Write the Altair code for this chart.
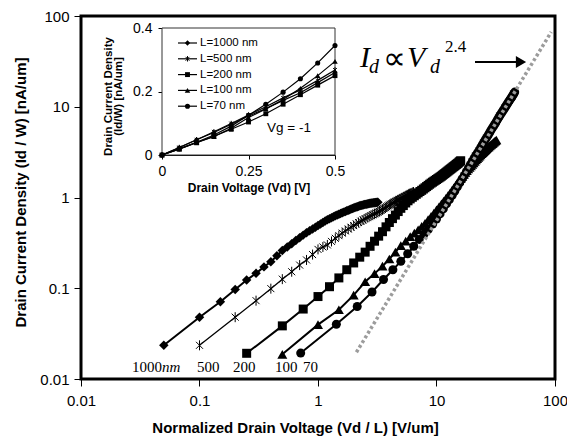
import altair as alt
import pandas as pd

# ---------------- data ----------------
L_NM = [1000, 500, 200, 100, 70]
LEGEND_LABELS = ["L=1000 nm", "L=500 nm", "L=200 nm", "L=100 nm", "L=70 nm"]
CURVE_LABELS = ["1000", "500", "200", "100", "70"]

# drain voltage grid (V)
VD_LOW = [0.0, 0.05, 0.1, 0.15, 0.2, 0.25, 0.3, 0.35, 0.4, 0.45, 0.5]
VD_HIGH = [0.55, 0.6, 0.65, 0.7, 0.75, 0.8, 0.85, 0.9, 0.95, 1.0,
           1.05, 1.1, 1.15, 1.2, 1.25, 1.3, 1.35, 1.4, 1.45, 1.5,
           1.55, 1.6, 1.65, 1.7, 1.75, 1.8, 1.85, 1.9, 1.95, 2.0,
           2.05, 2.1, 2.15, 2.2, 2.25, 2.3, 2.35, 2.4, 2.45, 2.5,
           2.55, 2.6, 2.65, 2.7, 2.75, 2.8, 2.85, 2.9, 2.95, 3.0,
           3.05, 3.1, 3.15, 3.2]

# drain current density (nA/um), Vd = 0 ... 0.5 V (inset)
ID_LOW_1000 = [0, 0.0235, 0.048, 0.071, 0.097, 0.123, 0.146, 0.172, 0.196, 0.228, 0.26]
ID_LOW_500 = [0, 0.0235, 0.048, 0.073, 0.099, 0.126, 0.152, 0.18, 0.205, 0.235, 0.268]
ID_LOW_200 = [0, 0.0192, 0.0385, 0.059, 0.081, 0.104, 0.13, 0.16, 0.19, 0.22, 0.25]
ID_LOW_100 = [0, 0.0187, 0.0397, 0.058, 0.084, 0.118, 0.145, 0.175, 0.21, 0.25, 0.295]
ID_LOW_70 = [0, 0.0193, 0.0401, 0.063, 0.091, 0.125, 0.16, 0.198, 0.24, 0.29, 0.345]

# drain current density (nA/um), Vd = 0.55 ... 3.2 V
ID_HIGH_1000 = [0.285, 0.31, 0.335, 0.36, 0.385, 0.41, 0.43, 0.45, 0.47, 0.49,
                0.51, 0.53, 0.55, 0.567, 0.584, 0.6, 0.615, 0.628, 0.641, 0.654,
                0.666, 0.678, 0.69, 0.702, 0.713, 0.724, 0.735, 0.746, 0.756, 0.766,
                0.775, 0.784, 0.793, 0.801, 0.809, 0.816, 0.823, 0.829, 0.835, 0.84,
                0.845, 0.85, 0.854, 0.858, 0.862, 0.865, 0.868, 0.871, 0.874, 0.877,
                0.88, 0.883, 0.886, 0.889]
ID_HIGH_500 = [0.285, 0.3, 0.328, 0.355, 0.38, 0.405, 0.428, 0.45, 0.47, 0.49,
               0.51, 0.53, 0.548, 0.565, 0.583, 0.6, 0.615, 0.63, 0.645, 0.66,
               0.675, 0.69, 0.705, 0.72, 0.737, 0.755, 0.772, 0.79, 0.808, 0.825,
               0.842, 0.858, 0.873, 0.888, 0.902, 0.916, 0.93, 0.943, 0.956, 0.969,
               0.982, 0.995, 1.008, 1.021, 1.034, 1.047, 1.06, 1.073, 1.086, 1.099,
               1.112, 1.125, 1.138, 1.15]
ID_HIGH_200 = [0.29, 0.33, 0.375, 0.42, 0.475, 0.53, 0.585, 0.64, 0.7, 0.76,
               0.815, 0.87, 0.92, 0.965, 1.005, 1.045, 1.085, 1.125, 1.165, 1.2,
               1.24, 1.28, 1.32, 1.36, 1.4, 1.44, 1.475, 1.51, 1.545, 1.58,
               1.615, 1.65, 1.685, 1.72, 1.76, 1.8, 1.84, 1.88, 1.92, 1.96,
               2.0, 2.04, 2.08, 2.12, 2.16, 2.2, 2.24, 2.28, 2.32, 2.36,
               2.4, 2.45, 2.5, 2.54]
ID_HIGH_100 = [0.33, 0.37, 0.405, 0.44, 0.48, 0.52, 0.57, 0.62, 0.675, 0.73,
               0.79, 0.85, 0.915, 0.98, 1.05, 1.12, 1.2, 1.28, 1.365, 1.45,
               1.535, 1.62, 1.71, 1.8, 1.89, 1.98, 2.065, 2.15, 2.235, 2.32,
               2.41, 2.5, 2.59, 2.68, 2.77, 2.86, 2.95, 3.04, 3.12, 3.2,
               3.285, 3.37, 3.45, 3.53, 3.615, 3.7, 3.775, 3.85, 3.925, 4.0,
               4.075, 4.15, 4.225, 4.3]
ID_HIGH_70 = [0.395, 0.45, 0.51, 0.58, 0.66, 0.75, 0.85, 0.95, 1.06, 1.18,
              1.31, 1.45, 1.6, 1.75, 1.92, 2.1, 2.3, 2.5, 2.7, 2.9,
              3.1, 3.3, 3.55, 3.8, 4.05, 4.3, 4.55, 4.8, 5.1, 5.4,
              5.7, 6.0, 6.3, 6.6, 6.95, 7.3, 7.65, 8.0, 8.35, 8.7,
              9.05, 9.4, 9.8, 10.2, 10.6, 11.0, 11.4, 11.8, 12.2, 12.6,
              13.05, 13.5, 14.0, 14.5]

# power-law guide line Id ~ Vd^2.4 (dotted)
FIT_X = [2.11, 92.9]
FIT_Y = [0.0197, 66.7]

X_TICKS = [0.01, 0.1, 1, 10, 100]
Y_TICKS = [0.01, 0.1, 1, 10, 100]
INSET_X_TICKS = [0, 0.25, 0.5]
INSET_Y_TICKS = [0, 0.2, 0.4]

ID_LOW = [ID_LOW_1000, ID_LOW_500, ID_LOW_200, ID_LOW_100, ID_LOW_70]
ID_HIGH = [ID_HIGH_1000, ID_HIGH_500, ID_HIGH_200, ID_HIGH_100, ID_HIGH_70]

# ---------------- styles ----------------
SANS = "Liberation Sans"
SERIF = "Liberation Serif"
ASTERISK = "M-0.7,-0.7L0.7,0.7M-0.7,0.7L0.7,-0.7M0,-1L0,1"
SHAPES = ["diamond", ASTERISK, "square", "triangle-up", "circle"]
FILLED = [True, False, True, True, True]
MAIN_SIZE = [90, 100, 81, 100, 81]
MAIN_LW = [2, 1.3, 2, 2, 2]
INSET_SIZE = [28, 30, 24, 30, 26]

W, H = 474, 363

# ---------------- main plot ----------------
xs = alt.Scale(type="log", domain=[0.01, 100], nice=False)
ys = alt.Scale(type="log", domain=[0.01, 100], nice=False)
x_axis = alt.Axis(values=X_TICKS, format="~g", grid=False, domain=False, labelFlush=False,
                  tickSize=7, tickColor="black", labelFont=SANS, labelFontSize=15,
                  labelColor="black", labelPadding=7,
                  title="Normalized Drain Voltage (Vd / L) [V/um]",
                  titleFont=SANS, titleFontSize=15, titleFontWeight="bold",
                  titleColor="black", titleX=214, titleY=53, titleBaseline="alphabetic")
y_axis = alt.Axis(values=Y_TICKS, format="~g", grid=False, domain=False, labelFlush=False,
                  tickSize=7, tickColor="black", labelFont=SANS, labelFontSize=15,
                  labelColor="black", labelPadding=5,
                  title="Drain Current Density (Id / W) [nA/um]",
                  titleFont=SANS, titleFontSize=15, titleFontWeight="bold",
                  titleColor="black", titleX=-61, titleY=176, titleBaseline="middle")
X = alt.X("x:Q", scale=xs, axis=x_axis)
Y = alt.Y("y:Q", scale=ys, axis=y_axis)

main_layers = []
for i, L in enumerate(L_NM):
    L_um = L / 1000.0
    vd = VD_LOW[1:] + VD_HIGH
    ids = ID_LOW[i][1:] + ID_HIGH[i]
    df = pd.DataFrame({"x": [v / L_um for v in vd], "y": ids})
    main_layers.append(alt.Chart(df).mark_line(color="black", strokeWidth=MAIN_LW[i])
                       .encode(x=X, y=Y))
    main_layers.append(alt.Chart(df).mark_point(shape=SHAPES[i], filled=FILLED[i],
                                                color="black", size=MAIN_SIZE[i],
                                                opacity=1, strokeWidth=1)
                       .encode(x=X, y=Y))

fit_df = pd.DataFrame({"x": FIT_X, "y": FIT_Y})
main_layers.append(alt.Chart(fit_df).mark_line(color="#9c9c9c", strokeWidth=3.5,
                                               strokeDash=[3, 2.5], strokeCap="butt")
                   .encode(x=X, y=Y))
main = alt.layer(*main_layers)

# ---------------- inset ----------------
ixs = alt.Scale(domain=[0, 0.5], range=[81, 254], nice=False, zero=False)
iys = alt.Scale(domain=[0, 0.4], range=[139, 12], nice=False, zero=False)
ix_axis = alt.Axis(orient="bottom", offset=-(H - 139), values=INSET_X_TICKS, format=".2~f",
                   grid=False, domainColor="black", domainWidth=1, tickSize=4,
                   labelFlush=False, tickColor="black", labelFont=SANS, labelFontSize=14,
                   labelColor="black", labelPadding=5, title="Drain Voltage (Vd) [V]",
                   titleFont=SANS, titleFontSize=12, titleFontWeight="bold",
                   titleColor="black", titlePadding=4)
iy_axis = alt.Axis(orient="left", offset=-81, values=INSET_Y_TICKS, format=".1~f",
                   grid=False, domainColor="black", domainWidth=1, tickSize=4,
                   labelFlush=False, tickColor="black", labelFont=SANS, labelFontSize=14,
                   labelColor="black", labelPadding=6,
                   title=["Drain Current Density", "(Id/W) [nA/um]"],
                   titleFont=SANS, titleFontSize=11.5, titleFontWeight="bold",
                   titleColor="black", titleLineHeight=10, titleX=-54, titleY=80,
                   titleBaseline="middle")
IX = alt.X("x:Q", scale=ixs, axis=ix_axis)
IY = alt.Y("y:Q", scale=iys, axis=iy_axis)

one = pd.DataFrame({"a": [0]})
inset_layers = [
    alt.Chart(one).mark_rect(fill="white", stroke="#333333", strokeWidth=1)
    .encode(x=alt.value(81), x2=alt.value(254), y=alt.value(12), y2=alt.value(139))
]
for i, L in enumerate(L_NM):
    df = pd.DataFrame({"x": VD_LOW, "y": ID_LOW[i]})
    inset_layers.append(alt.Chart(df).mark_line(color="black", strokeWidth=1.2)
                        .encode(x=IX, y=IY))
    inset_layers.append(alt.Chart(df).mark_point(shape=SHAPES[i], filled=FILLED[i],
                                                 color="black", size=INSET_SIZE[i],
                                                 opacity=1, strokeWidth=1)
                        .encode(x=IX, y=IY))
inset = alt.layer(*inset_layers)

# ---------------- annotations ----------------
ann = []
# inset legend
for i, lab in enumerate(LEGEND_LABELS):
    yy = 27 + i * 15.8
    ann.append(alt.Chart(one).mark_rule(color="black", strokeWidth=1.2)
               .encode(x=alt.value(97), x2=alt.value(116), y=alt.value(yy)))
    ann.append(alt.Chart(one).mark_point(shape=SHAPES[i], filled=FILLED[i], color="black",
                                         size=INSET_SIZE[i], opacity=1, strokeWidth=1)
               .encode(x=alt.value(106.5), y=alt.value(yy)))
    ann.append(alt.Chart(one).mark_text(text=lab, font=SANS, fontSize=11.5, align="left",
                                        baseline="middle", color="black")
               .encode(x=alt.value(119), y=alt.value(yy)))
ann.append(alt.Chart(one).mark_text(text="Vg = -1", font=SANS, fontSize=13.5, align="left",
                                    baseline="middle", color="black")
           .encode(x=alt.value(186), y=alt.value(112)))

# curve labels
label_x = [51, 116, 152, 194, 222]
for lab, lx in zip(CURVE_LABELS, label_x):
    ann.append(alt.Chart(one).mark_text(text=lab, font=SERIF, fontSize=15, align="left",
                                        baseline="alphabetic", color="black")
               .encode(x=alt.value(lx), y=alt.value(356)))
ann.append(alt.Chart(one).mark_text(text="nm", font=SERIF, fontSize=15, fontStyle="italic",
                                    align="left", baseline="alphabetic", color="black")
           .encode(x=alt.value(81), y=alt.value(356)))

# formula  I_d ∝ V_d^2.4
pieces = [
    ("I", 279, 51, 30, "italic", "alphabetic"),
    ("d", 288, 57, 20, "italic", "alphabetic"),
    ("\u221d", 302, 43, 32, "normal", "middle"),
    ("V", 326, 51, 30, "italic", "alphabetic"),
    ("d", 349, 57, 20, "italic", "alphabetic"),
    ("2.4", 364, 36, 17, "normal", "alphabetic"),
]
for t, px, py, fs, st, bl in pieces:
    ann.append(alt.Chart(one).mark_text(text=t, font=SERIF, fontSize=fs, fontStyle=st,
                                        align="left", baseline=bl, color="black")
               .encode(x=alt.value(px), y=alt.value(py)))
# arrow
ann.append(alt.Chart(one).mark_rule(color="black", strokeWidth=2)
           .encode(x=alt.value(394), x2=alt.value(438), y=alt.value(46)))
ann.append(alt.Chart(one).mark_point(shape="triangle-right", filled=True, color="black",
                                     size=140, opacity=1)
           .encode(x=alt.value(440), y=alt.value(46)))
annotations = alt.layer(*ann)

chart = (
    alt.layer(main, inset, annotations)
    .resolve_scale(x="independent", y="independent")
    .properties(width=W, height=H, autosize=alt.AutoSizeParams(type="none"),
                padding={"left": 73, "top": 8, "right": 12, "bottom": 60},
                background="white")
    .configure_view(stroke="black", strokeWidth=3)
)

chart.save("out.html", embed_options={"renderer": "svg", "actions": False})
